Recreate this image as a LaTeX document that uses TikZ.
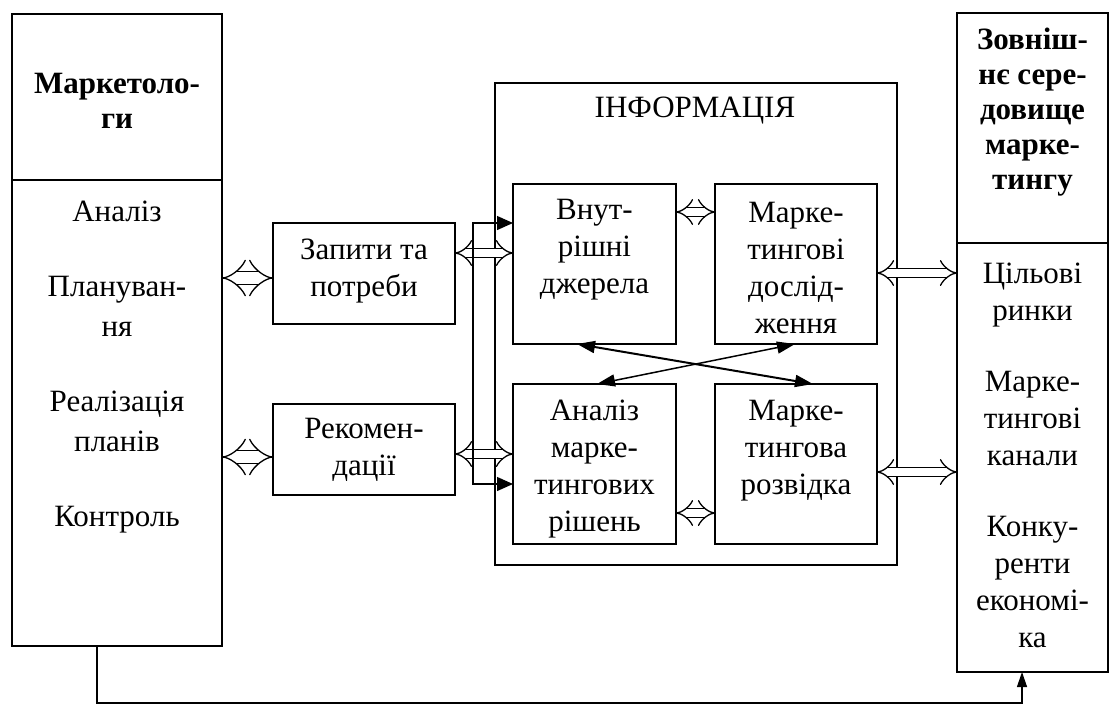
\documentclass[tikz,border=0pt]{standalone}
\usepackage{fontspec}
\setmainfont{Liberation Serif}
\usetikzlibrary{arrows.meta}
\begin{document}
\begin{tikzpicture}[x=1pt,y=-1pt,
  box/.style={draw, line width=1.3pt, inner sep=0pt, outer sep=0pt},
  txt/.style={align=center, font=\fontsize{31}{37}\selectfont, inner sep=0pt},
  btxt/.style={align=center, font=\fontsize{31}{35}\selectfont\bfseries, inner sep=0pt},
  dbl/.style={double, double distance=8pt, line width=1.3pt, {Implies[length=12pt,width=24pt]}-{Implies[length=12pt,width=24pt]}},
  dblw/.style={double, double distance=12pt, line width=1.3pt, {Implies[length=12pt,width=30pt]}-{Implies[length=12pt,width=30pt]}},
  arr/.style={line width=1.3pt, -{Triangle[length=15pt,width=10pt]}},
  busarr/.style={line width=1.3pt, {Triangle[length=16pt,width=14pt]}-{Triangle[length=16pt,width=14pt]}},
  darr/.style={line width=2pt, {Triangle[length=18pt,width=12pt]}-{Triangle[length=18pt,width=12pt]}}]
\useasboundingbox (0,0) rectangle (1112,705);

% boxes
\node[box, minimum width=210pt, minimum height=166pt] (mkt) at (117,97) {};
\node[box, minimum width=210pt, minimum height=466pt] (mkl) at (117,413) {};
\node[box, minimum width=182pt, minimum height=101pt] (zap) at (364,273.5) {};
\node[box, minimum width=182pt, minimum height=91pt] (rek) at (364,449.5) {};
\node[box, minimum width=402pt, minimum height=482pt] (info) at (696,324) {};
\node[box, minimum width=163pt, minimum height=160pt] (vn) at (594.5,264) {};
\node[box, minimum width=162pt, minimum height=160pt] (md) at (796,264) {};
\node[box, minimum width=163pt, minimum height=160pt] (an) at (594.5,464) {};
\node[box, minimum width=162pt, minimum height=160pt] (mr) at (796,464) {};
\node[box, minimum width=151pt, minimum height=230pt] (zt) at (1032.5,128) {};
\node[box, minimum width=151pt, minimum height=429pt] (zl) at (1032.5,457.5) {};

% texts
\node[btxt] (mktT) at (117,101) {Маркетоло-\\ги};
\node[txt, font=\fontsize{31}{40}\selectfont] (mklT) at (117,367) {Аналіз\\[35pt]Плануван-\\ня\\[35pt]Реалізація\\планів\\[35pt]Контроль};
\node[txt] (zapT) at (364,271.5) {Запити та\\потреби};
\node[txt] (rekT) at (364,449.5) {Рекомен-\\дації};
\node[txt] (infT) at (695,111) {ІНФОРМАЦІЯ};
\node[txt] (vnT) at (594.5,250) {Внут-\\рішні\\джерела};
\node[txt] (mdT) at (796,268) {Марке-\\тингові\\дослід-\\ження};
\node[txt] (anT) at (594.5,469) {Аналіз\\марке-\\тингових\\рішень};
\node[txt] (mrT) at (796,451) {Марке-\\тингова\\розвідка};
\node[btxt] (ztT) at (1032.5,112.5) {Зовніш-\\нє сере-\\довище\\марке-\\тингу};
\node[txt] (zlT) at (1032.5,455) {Цільові\\ринки\\[34pt]Марке-\\тингові\\канали\\[34pt]Конку-\\ренти\\економі-\\ка};

% helper coordinates
\path ([yshift=-4.5pt]zap.west) coordinate (a1)
      ([yshift=-7.5pt]rek.west) coordinate (a2)
      ([yshift=20.5pt]zap.east) coordinate (a3)
      ([yshift=-4.5pt]rek.east) coordinate (a4)
      ([yshift=52pt]vn.east) coordinate (a5)
      ([yshift=-49pt]an.east) coordinate (a6)
      ([yshift=-9pt]md.east) coordinate (a7)
      ([yshift=-8pt]mr.east) coordinate (a8)
      ([yshift=41pt]vn.west) coordinate (b1)
      ([yshift=-20pt]an.west) coordinate (b2)
      ([xshift=-20pt]mkl.south) coordinate (c1)
      ([xshift=-10.5pt]zl.south) coordinate (c2);
\coordinate (bx) at (473,350);
\coordinate (bot) at (0,703);

% double (hollow) arrows
\draw[dblw] (a1 -| mkl.east) -- (a1);
\draw[dblw] (a2 -| mkl.east) -- (a2);
\draw[dbl] (a3) -- (a3 -| vn.west);
\draw[dbl] (a4) -- (a4 -| an.west);
\draw[dbl] (a5) -- (a5 -| md.west);
\draw[dbl] (a6) -- (a6 -| mr.west);
\draw[dbl] (a7) -- (a7 -| zl.west);
\draw[dbl] (a8) -- (a8 -| zl.west);

% bus
\draw[busarr] (b1) -- (b1 -| bx) -- (b2 -| bx) -- (b2);

% cross arrows
\draw[darr] ([xshift=-17.5pt]vn.south) -- ([xshift=17pt]mr.north);
\draw[darr, line width=1.5pt] ([xshift=-1pt]md.south) -- ([xshift=2.5pt]an.north);

% bottom feedback
\draw[arr] (c1) -- (c1 |- bot) -- (c2 |- bot) -- (c2);
\end{tikzpicture}
\end{document}
